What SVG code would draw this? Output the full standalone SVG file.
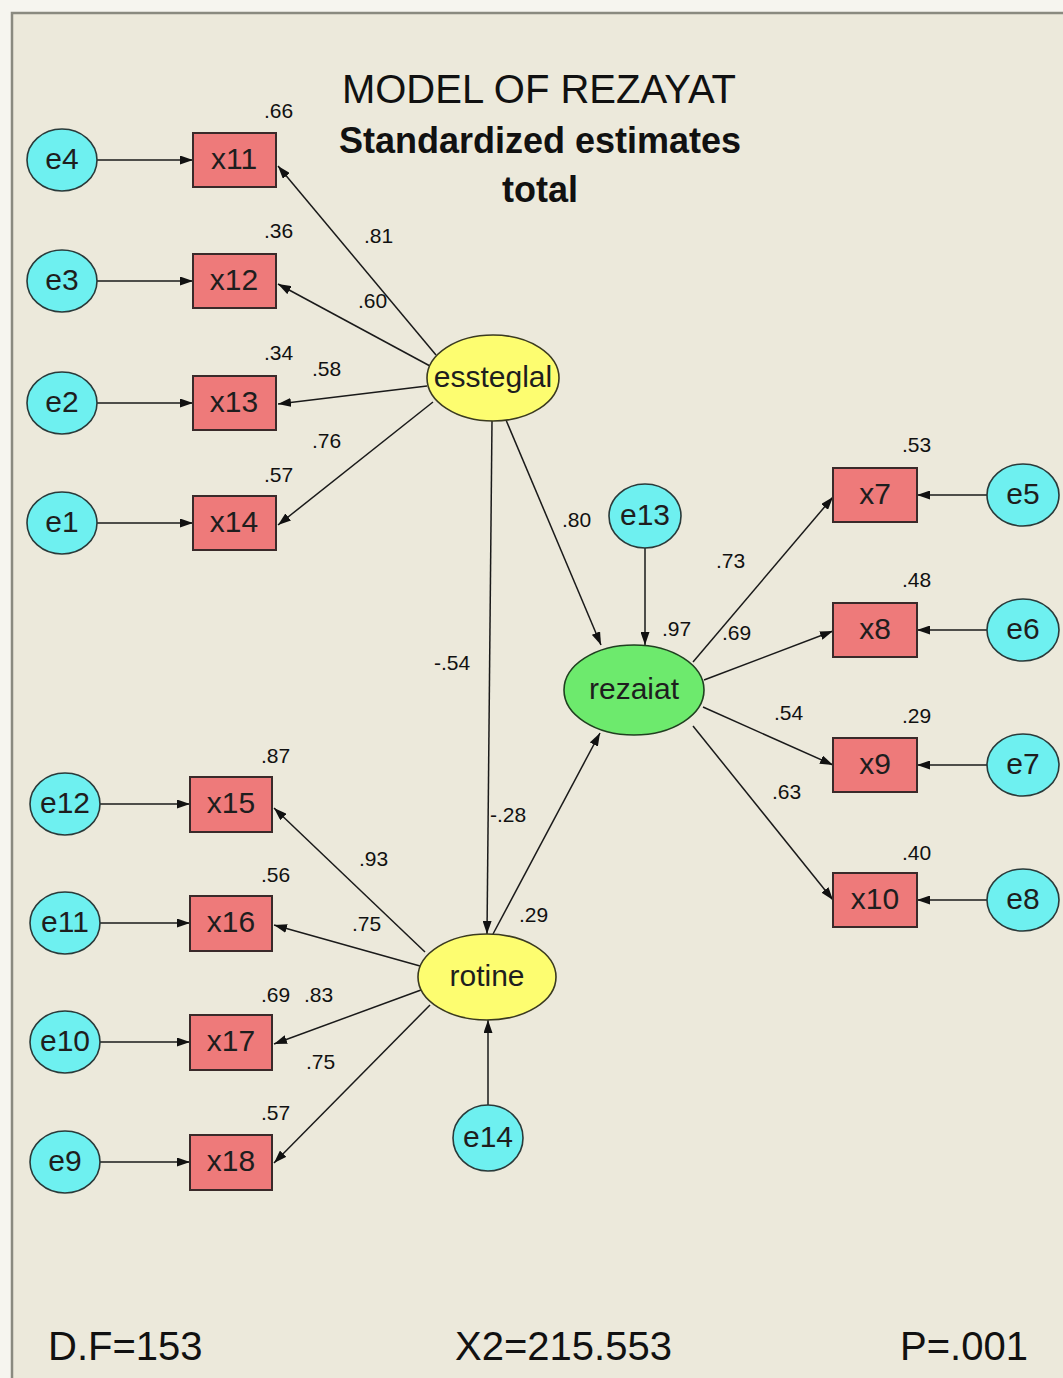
<svg xmlns="http://www.w3.org/2000/svg" width="1063" height="1378" viewBox="0 0 1063 1378">
<style>
text{font-family:"Liberation Sans",Arial,sans-serif;fill:#111}
.err{fill:#6EF0F0;stroke:#2a3a3a;stroke-width:1.6}
.box{fill:#EE7A7A;stroke:#3a2a2a;stroke-width:2}
.lat{fill:#FDFD70;stroke:#3a3a20;stroke-width:1.6}
.grn{fill:#6DEA6D;stroke:#204020;stroke-width:1.6}
.lbl{font-size:30px;text-anchor:middle;dominant-baseline:central;fill:#1e1e1e}
.num{font-size:21px}
.big{font-size:40px}
.conn line{stroke:#1a1a1a;stroke-width:1.5;marker-end:url(#ah)}
</style>
<defs>
<marker id="ah" viewBox="0 0 13 9" refX="13" refY="4.5" markerWidth="13" markerHeight="9" orient="auto" markerUnits="userSpaceOnUse"><path d="M0,0 L13,4.5 L0,9 z" fill="#111"/></marker>
</defs>
<rect x="0" y="0" width="1063" height="1378" fill="#F6F5EF"/>
<rect x="12" y="13" width="1060" height="1380" fill="#ECE9DB" stroke="#8a8a80" stroke-width="2.5"/>

<g id="title">
<text x="539" y="103" class="big" text-anchor="middle">MODEL OF REZAYAT</text>
<text x="540" y="153" font-size="36" font-weight="bold" text-anchor="middle">Standardized estimates</text>
<text x="540" y="202" font-size="36" font-weight="bold" text-anchor="middle">total</text>
</g>

<g id="connectors" class="conn">
<line x1="97" y1="160" x2="193" y2="160"/>
<line x1="97" y1="281" x2="193" y2="281"/>
<line x1="97" y1="403" x2="193" y2="403"/>
<line x1="97" y1="523" x2="193" y2="523"/>
<line x1="436" y1="355" x2="278" y2="166"/>
<line x1="430" y1="366" x2="278" y2="284"/>
<line x1="427" y1="386" x2="278" y2="404"/>
<line x1="433" y1="402" x2="278" y2="525"/>
<line x1="492" y1="421" x2="487" y2="934"/>
<line x1="506" y1="420" x2="601" y2="645"/>
<line x1="645" y1="548" x2="645" y2="645"/>
<line x1="493" y1="934" x2="600" y2="733"/>
<line x1="488" y1="1105" x2="488" y2="1020"/>
<line x1="693" y1="662" x2="833" y2="497"/>
<line x1="704" y1="680" x2="833" y2="631"/>
<line x1="703" y1="707" x2="833" y2="765"/>
<line x1="693" y1="726" x2="833" y2="900"/>
<line x1="987" y1="495" x2="917" y2="495"/>
<line x1="987" y1="630" x2="917" y2="630"/>
<line x1="987" y1="765" x2="917" y2="765"/>
<line x1="987" y1="900" x2="917" y2="900"/>
<line x1="425" y1="952" x2="274" y2="808"/>
<line x1="420" y1="966" x2="274" y2="925"/>
<line x1="421" y1="990" x2="274" y2="1044"/>
<line x1="430" y1="1005" x2="274" y2="1163"/>
<line x1="100" y1="804" x2="190" y2="804"/>
<line x1="100" y1="923" x2="190" y2="923"/>
<line x1="100" y1="1042" x2="190" y2="1042"/>
<line x1="100" y1="1162" x2="190" y2="1162"/>
</g>

<g id="e4"><ellipse class="err" cx="62" cy="160" rx="35" ry="31"/><text class="lbl" x="62" y="158">e4</text></g>
<g id="e3"><ellipse class="err" cx="62" cy="281" rx="35" ry="31"/><text class="lbl" x="62" y="279">e3</text></g>
<g id="e2"><ellipse class="err" cx="62" cy="403" rx="35" ry="31"/><text class="lbl" x="62" y="401">e2</text></g>
<g id="e1"><ellipse class="err" cx="62" cy="523" rx="35" ry="31"/><text class="lbl" x="62" y="521">e1</text></g>

<g id="x11"><rect class="box" x="193" y="133" width="83" height="54"/><text class="lbl" x="234" y="158">x11</text></g>
<g id="x12"><rect class="box" x="193" y="254" width="83" height="54"/><text class="lbl" x="234" y="279">x12</text></g>
<g id="x13"><rect class="box" x="193" y="376" width="83" height="54"/><text class="lbl" x="234" y="401">x13</text></g>
<g id="x14"><rect class="box" x="193" y="496" width="83" height="54"/><text class="lbl" x="234" y="521">x14</text></g>

<g id="essteglal"><ellipse class="lat" cx="493" cy="378" rx="66" ry="43"/><text class="lbl" x="493" y="376">essteglal</text></g>
<g id="e13"><ellipse class="err" cx="645" cy="516" rx="36" ry="32"/><text class="lbl" x="645" y="514">e13</text></g>
<g id="rezaiat"><ellipse class="grn" cx="634" cy="690" rx="70" ry="45"/><text class="lbl" x="634" y="688">rezaiat</text></g>
<g id="rotine"><ellipse class="lat" cx="487" cy="977" rx="69" ry="43"/><text class="lbl" x="487" y="975">rotine</text></g>
<g id="e14"><ellipse class="err" cx="488" cy="1138" rx="35" ry="33"/><text class="lbl" x="488" y="1136">e14</text></g>

<g id="x7"><rect class="box" x="833" y="468" width="84" height="54"/><text class="lbl" x="875" y="493">x7</text></g>
<g id="x8"><rect class="box" x="833" y="603" width="84" height="54"/><text class="lbl" x="875" y="628">x8</text></g>
<g id="x9"><rect class="box" x="833" y="738" width="84" height="54"/><text class="lbl" x="875" y="763">x9</text></g>
<g id="x10"><rect class="box" x="833" y="873" width="84" height="54"/><text class="lbl" x="875" y="898">x10</text></g>

<g id="e5"><ellipse class="err" cx="1023" cy="495" rx="36" ry="31"/><text class="lbl" x="1023" y="493">e5</text></g>
<g id="e6"><ellipse class="err" cx="1023" cy="630" rx="36" ry="31"/><text class="lbl" x="1023" y="628">e6</text></g>
<g id="e7"><ellipse class="err" cx="1023" cy="765" rx="36" ry="31"/><text class="lbl" x="1023" y="763">e7</text></g>
<g id="e8"><ellipse class="err" cx="1023" cy="900" rx="36" ry="31"/><text class="lbl" x="1023" y="898">e8</text></g>

<g id="e12"><ellipse class="err" cx="65" cy="804" rx="35" ry="31"/><text class="lbl" x="65" y="802">e12</text></g>
<g id="e11"><ellipse class="err" cx="65" cy="923" rx="35" ry="31"/><text class="lbl" x="65" y="921">e11</text></g>
<g id="e10"><ellipse class="err" cx="65" cy="1042" rx="35" ry="31"/><text class="lbl" x="65" y="1040">e10</text></g>
<g id="e9"><ellipse class="err" cx="65" cy="1162" rx="35" ry="31"/><text class="lbl" x="65" y="1160">e9</text></g>

<g id="x15"><rect class="box" x="190" y="777" width="82" height="55"/><text class="lbl" x="231" y="802">x15</text></g>
<g id="x16"><rect class="box" x="190" y="896" width="82" height="55"/><text class="lbl" x="231" y="921">x16</text></g>
<g id="x17"><rect class="box" x="190" y="1015" width="82" height="55"/><text class="lbl" x="231" y="1040">x17</text></g>
<g id="x18"><rect class="box" x="190" y="1135" width="82" height="55"/><text class="lbl" x="231" y="1160">x18</text></g>

<g id="estimates" class="num">
<text x="264" y="118">.66</text>
<text x="264" y="238">.36</text>
<text x="264" y="360">.34</text>
<text x="264" y="482">.57</text>
<text x="364" y="243">.81</text>
<text x="358" y="308">.60</text>
<text x="312" y="376">.58</text>
<text x="312" y="448">.76</text>
<text x="562" y="527">.80</text>
<text x="434" y="670">-.54</text>
<text x="662" y="636">.97</text>
<text x="716" y="568">.73</text>
<text x="722" y="640">.69</text>
<text x="774" y="720">.54</text>
<text x="772" y="799">.63</text>
<text x="902" y="452">.53</text>
<text x="902" y="587">.48</text>
<text x="902" y="723">.29</text>
<text x="902" y="860">.40</text>
<text x="490" y="822">-.28</text>
<text x="519" y="922">.29</text>
<text x="261" y="763">.87</text>
<text x="261" y="882">.56</text>
<text x="359" y="866">.93</text>
<text x="352" y="931">.75</text>
<text x="261" y="1002">.69</text>
<text x="304" y="1002">.83</text>
<text x="306" y="1069">.75</text>
<text x="261" y="1120">.57</text>
</g>

<g id="fit">
<text x="48" y="1360" class="big">D.F=153</text>
<text x="455" y="1360" class="big">X2=215.553</text>
<text x="900" y="1360" class="big">P=.001</text>
</g>
</svg>
